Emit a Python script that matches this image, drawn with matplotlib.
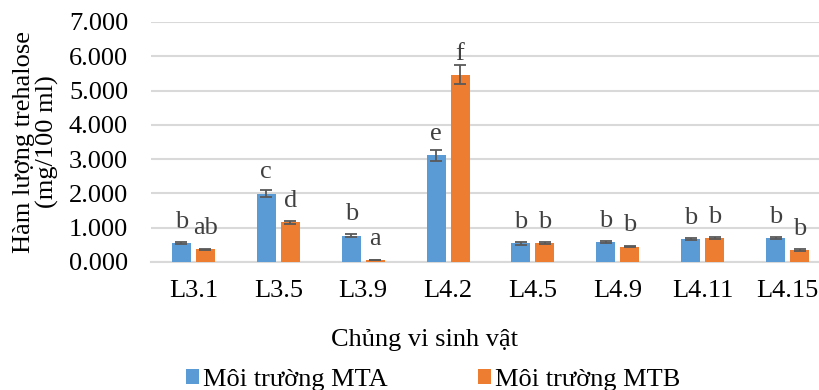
import matplotlib
matplotlib.use("Agg")
import matplotlib.pyplot as plt
from matplotlib.patches import Patch
import numpy as np

categories = ["L3.1", "L3.5", "L3.9", "L4.2", "L4.5", "L4.9", "L4.11", "L4.15"]
mta = [0.55, 1.99, 0.77, 3.11, 0.54, 0.57, 0.67, 0.70]
mtb = [0.37, 1.16, 0.06, 5.46, 0.55, 0.45, 0.69, 0.35]
mta_err = [0.03, 0.10, 0.04, 0.16, 0.03, 0.03, 0.03, 0.03]
mtb_err = [0.02, 0.05, 0.01, 0.28, 0.03, 0.02, 0.03, 0.02]
mta_letters = ["b", "c", "b", "e", "b", "b", "b", "b"]
mtb_letters = ["ab", "d", "a", "f", "b", "b", "b", "b"]
series_names = ["Môi trường MTA", "Môi trường MTB"]
yticks = [0, 1, 2, 3, 4, 5, 6, 7]

plt.rcParams['font.family'] = ['Liberation Serif', 'DejaVu Serif']
FS = 19
BLUE = "#5B9BD5"
ORANGE = "#ED7D31"
GRID = "#D9D9D9"
TXT = "#404040"

fig = plt.figure(figsize=(8.19, 3.90), dpi=100)
ax = fig.add_axes([151/819, 1 - 262/390, (830 - 151)/819, (262 - 22)/390])

x = np.arange(len(categories))
off = 0.141
w = 0.224
ekw = dict(ecolor="#595959", elinewidth=1.3, capthick=1.3)
ax.bar(x - off, mta, w, color=BLUE, yerr=mta_err, capsize=4.3, error_kw=ekw, zorder=3)
ax.bar(x + off, mtb, w, color=ORANGE, yerr=mtb_err, capsize=4.3, error_kw=ekw, zorder=3)

for xi, v, s in zip(x - off, mta, mta_letters):
    ax.annotate(s, (xi, v), xytext=(0, 11), textcoords="offset points",
                ha="center", va="baseline", fontsize=FS, color=TXT)
for xi, v, s in zip(x + off, mtb, mtb_letters):
    ax.annotate(s, (xi, v), xytext=(0, 11), textcoords="offset points",
                ha="center", va="baseline", fontsize=FS, color=TXT)

ax.set_xlim(-0.5, len(categories) - 0.5)
ax.set_ylim(0, 7)
ax.set_yticks(yticks)
ax.set_yticklabels([f"{t:.3f}" for t in yticks])
ax.set_xticks(x)
ax.set_xticklabels(categories)
ax.tick_params(axis="both", length=0, labelsize=FS, colors="black")
ax.tick_params(axis="y", pad=16.5)
ax.tick_params(axis="x", pad=13)
ax.grid(axis="y", color=GRID, linewidth=1.5, zorder=0)
ax.set_axisbelow(True)
for sp in ["top", "right", "left"]:
    ax.spines[sp].set_visible(False)
ax.spines["bottom"].set_color(GRID)
ax.spines["bottom"].set_linewidth(1.5)

fig.text(36/819, 1 - 142/390, "Hàm lượng trehalose\n(mg/100 ml)", rotation=90,
         ha="center", va="center", multialignment="center", fontsize=FS, linespacing=1.1)
fig.text(424/819, 1 - 340/390, "Chủng vi sinh vật", ha="center", va="center", fontsize=FS)

handles = [Patch(facecolor=BLUE), Patch(facecolor=ORANGE)]
fig.legend(handles, series_names, loc="center", bbox_to_anchor=(433/819, 1 - 380/390),
           ncol=2, frameon=False, fontsize=FS, handlelength=0.5, handleheight=0.5,
           handletextpad=0.15, columnspacing=3.4, borderpad=0, borderaxespad=0)

fig.savefig("out.png", dpi=100)
